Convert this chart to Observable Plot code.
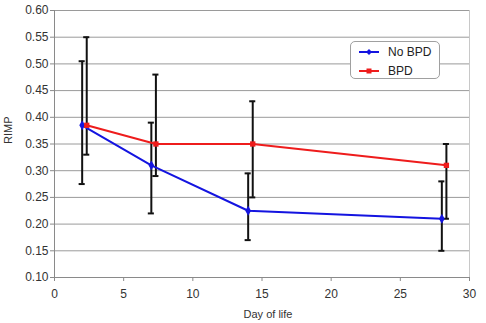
<!DOCTYPE html>
<html>
<head>
<meta charset="utf-8">
<script src="https://cdn.jsdelivr.net/npm/d3@7"></script>
<script src="https://cdn.jsdelivr.net/npm/@observablehq/plot@0.6"></script>
<style>
  html, body { margin: 0; padding: 0; background: #fff; }
  #chart { position: relative; width: 486px; height: 323px; font-family: "Liberation Sans", Arial, sans-serif; }
  #legend {
    position: absolute; left: 350px; top: 41px; width: 90px; height: 38px;
    border: 1px solid #a0a0a0; border-radius: 5px; background: #fff;
    font-size: 12px; color: #222; box-sizing: border-box;
  }
  #legend .row { position: absolute; left: 8px; height: 14px; display: flex; align-items: center; }
  #legend .row span { margin-left: 9px; }
</style>
</head>
<body>
<div id="chart"></div>
<script>
// Right-ventricular index of myocardial performance (RIMP) by day of life
const days = [2, 7, 14, 28];
const seriesNames = ["No BPD", "BPD"];
const seriesColors = ["#1414e0", "#ee1c1c"];
const seriesSymbols = ["diamond", "square"];
const seriesShift = [0, 0.33]; // BPD points are nudged right so the error bars don't overlap

const noBpdMean = [0.385, 0.31, 0.225, 0.21];
const noBpdHigh = [0.505, 0.39, 0.295, 0.28];
const noBpdLow  = [0.275, 0.22, 0.17, 0.15];

const bpdMean = [0.385, 0.35, 0.35, 0.31];
const bpdHigh = [0.55, 0.48, 0.43, 0.35];
const bpdLow  = [0.33, 0.29, 0.25, 0.21];

const yTicks = [0.10, 0.15, 0.20, 0.25, 0.30, 0.35, 0.40, 0.45, 0.50, 0.55, 0.60];
const xTicks = [0, 5, 10, 15, 20, 25, 30];

const means = [noBpdMean, bpdMean];
const highs = [noBpdHigh, bpdHigh];
const lows = [noBpdLow, bpdLow];

const rows = [];
seriesNames.forEach((name, s) => {
  days.forEach((d, i) => {
    rows.push({
      series: name,
      day: d + seriesShift[s],
      mean: means[s][i],
      high: highs[s][i],
      low: lows[s][i]
    });
  });
});

const capHalf = 0.22; // half width of error-bar caps, in days

const plot = Plot.plot({
  width: 486,
  height: 323,
  marginLeft: 54,
  marginRight: 17,
  marginTop: 10,
  marginBottom: 46,
  style: { fontFamily: "Liberation Sans, Arial, sans-serif", fontSize: "12px", color: "#333", background: "#fff" },
  x: { domain: [0, 30] },
  y: { domain: [0.10, 0.60] },
  color: { domain: seriesNames, range: seriesColors },
  symbol: { domain: seriesNames, range: seriesSymbols },
  marks: [
    Plot.gridY(yTicks, { stroke: "#9a9a9a", strokeOpacity: 1 }),
    Plot.ruleX([30], { stroke: "#c8c8c8" }),
    Plot.ruleX([0], { stroke: "#8a8a8a" }),
    Plot.ruleY([0.10], { stroke: "#8a8a8a" }),
    Plot.axisY({ ticks: yTicks, tickFormat: d3.format(".2f"), tickSize: 4, tickPadding: 2, stroke: "#8a8a8a", label: null, fontSize: 12 }),
    Plot.axisX({ ticks: xTicks, tickSize: 4, tickPadding: 8, stroke: "#8a8a8a", label: null, fontSize: 12 }),
    Plot.text(["RIMP"], { frameAnchor: "left", rotate: -90, dx: -46, fontSize: 11, fill: "#333" }),
    Plot.text(["Day of life"], { frameAnchor: "bottom", dy: 40, dx: 6, fontSize: 11, fill: "#333" }),
    // error bars
    Plot.ruleX(rows, { x: "day", y1: "low", y2: "high", stroke: "#111", strokeWidth: 2 }),
    Plot.ruleY(rows, { y: "high", x1: d => d.day - capHalf, x2: d => d.day + capHalf, stroke: "#111", strokeWidth: 2 }),
    Plot.ruleY(rows, { y: "low", x1: d => d.day - capHalf, x2: d => d.day + capHalf, stroke: "#111", strokeWidth: 2 }),
    // series lines and markers
    Plot.line(rows, { x: "day", y: "mean", stroke: "series", strokeWidth: 2 }),
    Plot.dot(rows, { x: "day", y: "mean", fill: "series", symbol: "series", r: 3 })
  ]
});

const chart = document.getElementById("chart");
chart.appendChild(plot);

// legend box
const legend = document.createElement("div");
legend.id = "legend";
seriesNames.forEach((name, s) => {
  const row = document.createElement("div");
  row.className = "row";
  row.style.top = (3 + s * 19) + "px";
  const sym = seriesSymbols[s] === "square"
    ? `<rect x="7.5" y="3.5" width="5" height="5" fill="${seriesColors[s]}"/>`
    : `<path d="M10 3 L13 6 L10 9 L7 6 Z" fill="${seriesColors[s]}"/>`;
  row.innerHTML = `<svg width="20" height="12"><line x1="0" x2="20" y1="6" y2="6" stroke="${seriesColors[s]}" stroke-width="2"/>${sym}</svg><span>${name}</span>`;
  legend.appendChild(row);
});
chart.appendChild(legend);
</script>
</body>
</html>
